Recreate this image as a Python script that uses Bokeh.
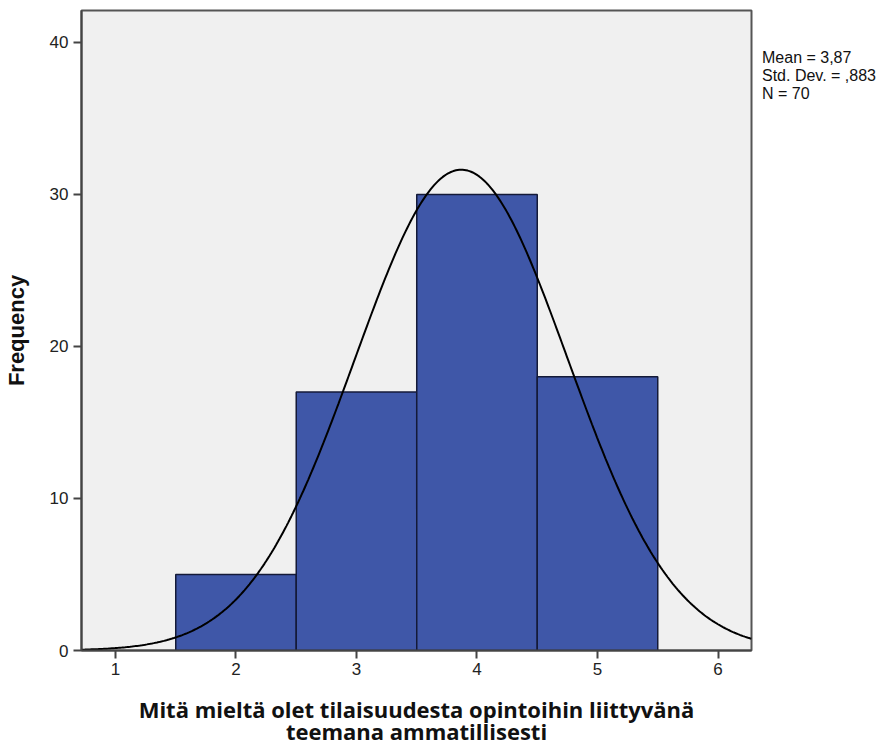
import numpy as np
from bokeh.plotting import figure
from bokeh.models import Range1d, FixedTicker, Legend, LegendItem
from bokeh.embed import file_html
from bokeh.resources import INLINE

# Data
bin_left = [1.5, 2.5, 3.5, 4.5]
bin_right = [2.5, 3.5, 4.5, 5.5]
freq = [5, 17, 30, 18]
mean = 3.87
sd = 0.883
n = 70
x_ticks = [1, 2, 3, 4, 5, 6]
y_ticks = [0, 10, 20, 30, 40]
stats_lines = ["Mean = 3,87", "Std. Dev. = ,883", "N = 70"]
x_title_lines = ["Mitä mieltä olet tilaisuudesta opintoihin liittyvänä",
                 "teemana ammatillisesti"]
y_title = "Frequency"

p = figure(frame_width=670, frame_height=640, output_backend="svg", toolbar_location=None,
           x_range=Range1d(0.718, 6.278), y_range=Range1d(0, 42.1),
           min_border_left=81, min_border_right=138, min_border_top=10, min_border_bottom=40)

p.background_fill_color = "#F0F0F0"
p.border_fill_color = "white"
p.outline_line_color = "#555555"
p.outline_line_width = 2
p.grid.visible = False

p.quad(left=bin_left, right=bin_right, bottom=0, top=freq,
       fill_color="#3F57A8", line_color="#141a38", line_width=1.5)

xs = np.linspace(0.718, 6.278, 400)
ys = n * 1.0 / (sd * np.sqrt(2 * np.pi)) * np.exp(-0.5 * ((xs - mean) / sd) ** 2)
p.line(xs, ys, line_color="black", line_width=2)

for ax in (p.xaxis[0], p.yaxis[0]):
    ax.axis_line_color = "#444444"
    ax.axis_line_width = 2
    ax.major_tick_line_color = "#444444"
    ax.major_tick_line_width = 2
    ax.major_tick_out = 8
    ax.major_tick_in = 0
    ax.minor_tick_line_color = None
    ax.major_label_text_font = "Liberation Sans"
    ax.major_label_text_font_size = "17px"
    ax.major_label_text_color = "#222222"
    ax.axis_label_text_font_style = "bold"
    ax.axis_label_text_color = "#111111"

p.xaxis.ticker = FixedTicker(ticks=x_ticks)
p.yaxis.ticker = FixedTicker(ticks=y_ticks)
p.yaxis.axis_label = y_title
p.yaxis.axis_label_text_font = "Liberation Sans"
p.yaxis.axis_label_text_font_size = "22px"
p.yaxis.axis_label_standoff = 18
p.yaxis.major_label_standoff = 5

p.xaxis.major_label_standoff = 4
p.xaxis.axis_label = "\n".join(x_title_lines)
p.xaxis.axis_label_text_font = "Open Sans"
p.xaxis.axis_label_text_font_size = "22px"
p.xaxis.axis_label_text_line_height = 0.75
p.xaxis.axis_label_standoff = 16

# statistics text at the right, as a legend without glyphs
dummy = p.scatter([], [], alpha=0)
items = [LegendItem(label=s, renderers=[dummy]) for s in stats_lines]
leg = Legend(items=items, location=(11, 547), glyph_width=0, glyph_height=16,
             label_height=16, label_standoff=0, spacing=0, padding=0, margin=0,
             background_fill_alpha=0, border_line_color=None,
             label_text_font="Liberation Sans", label_text_font_size="16px",
             label_text_color="#111111")
p.add_layout(leg, "right")

open("out.html", "w").write(file_html(p, INLINE))
